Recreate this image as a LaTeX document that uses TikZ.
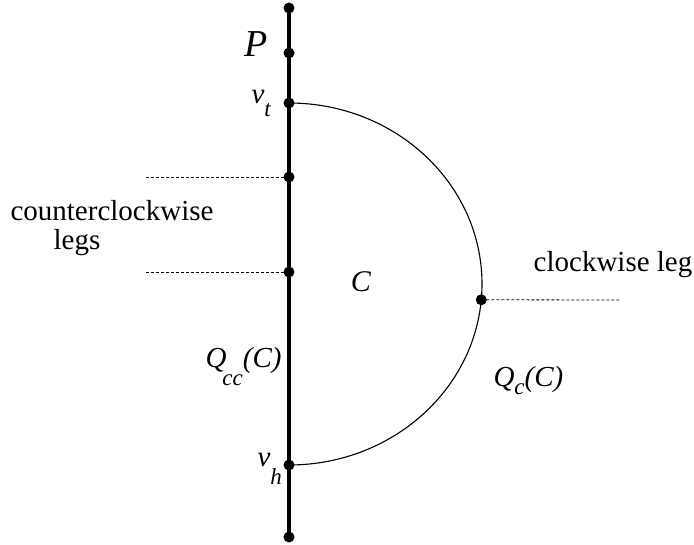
\documentclass[tikz,border=0pt]{standalone}
\usepackage{fontspec}
\setmainfont{Liberation Serif}
\usepackage{tikz}
\usetikzlibrary{positioning,calc}
\tikzset{every picture/.style={line width=1.1pt}}
\newcommand{\lowsub}[2]{\raisebox{-#1}{\fontsize{23}{26}\selectfont\itshape #2}}

\begin{document}
\begin{tikzpicture}[x=1pt,y=-1pt,
 every node/.style={font=\fontsize{29}{33}\selectfont,inner sep=0pt},
 pathdot/.style={circle,fill=black,minimum size=11pt},
 legline/.style={dashed,dash pattern=on 3pt off 2pt,line width=.8pt}]
 \useasboundingbox (0,0) rectangle (694,545);

 % The path P with its points.
 \coordinate (ptop) at (289,8);
 \coordinate (pone) at (289,53);
 \coordinate (vt) at (289,103);
 \coordinate (legA) at (289,177);
 \coordinate (legB) at (289,272);
 \coordinate (vh) at (289,465);
 \coordinate (pbot) at (289,537);
 \coordinate (ctr) at (289,284);
 \coordinate (cwpt) at ($(ctr)+(5:193 and 181)$);
 \coordinate (legAend) at (146,177);
 \coordinate (legBend) at (146,272);
 \coordinate (cwend) at (620,300);

 \draw[line width=4.5pt] (ptop)--(pbot);
 \draw (vt) arc[start angle=-90,end angle=90,x radius=193,y radius=181];

 % Legs, dashed.
 \draw[legline] (legAend)--(legA);
 \draw[legline] (legBend)--(legB);
 \draw[legline] (cwpt)--(cwend);

 \foreach \pt in {ptop,pone,vt,legA,legB,vh,pbot,cwpt}
  \node[pathdot] at (\pt) {};

 % Labels.
 \node[anchor=base,font=\fontsize{38}{42}\selectfont\itshape] (lblP) at (256,57) {P};
 \node[anchor=base west] (lblvt) at (251,104) {\itshape v\lowsub{13pt}{t}};
 \node[anchor=base west] (lblvh) at (257,466) {\itshape v\lowsub{18pt}{h}};
 \node[anchor=base,font=\fontsize{30}{34}\selectfont\itshape] (lblC) at (361,292) {C};
 \node[anchor=base west] (lblQcc) at (205,368) {\itshape Q\kern-4pt\lowsub{18pt}{cc}(C)};
 \node[anchor=base west] (lblQc) at (493,387) {\itshape Q\lowsub{8pt}{c}(C)};
 \node[anchor=base] (lblccw) at (112,221) {counterclockwise};
 \node[anchor=base] (lbllegs) at (77,250) {legs};
 \node[anchor=base] (lblcw) at (613,272) {clockwise leg};
\end{tikzpicture}
\end{document}
